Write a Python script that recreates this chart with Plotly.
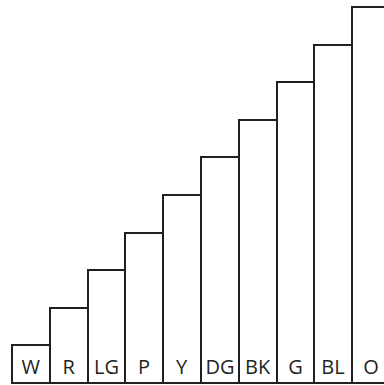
import plotly.graph_objects as go

# step chart of colour bars, each one step taller than the last
labels = ["W", "R", "LG", "P", "Y", "DG", "BK", "G", "BL", "O"]
heights = [1, 2, 3, 4, 5, 6, 7, 8, 9, 10]

ink = "#231f20"

fig = go.Figure(go.Bar(
    x=list(range(len(labels))),
    y=heights,
    text=labels,
    textposition="inside",
    insidetextanchor="start",
    textangle=0,
    textfont=dict(family="Open Sans", size=20, color=ink),
    marker=dict(color="white", line=dict(color=ink, width=2)),
    hoverinfo="skip",
))

fig.update_layout(
    width=384, height=385,
    margin=dict(l=0, r=0, t=0, b=0),
    paper_bgcolor="white", plot_bgcolor="white",
    bargap=0, showlegend=False,
    uniformtext=dict(minsize=20, mode="show"),
)
fig.update_xaxes(visible=False, range=[-0.817, 9.34])
fig.update_yaxes(visible=False, range=[-0.053, 10.19])

# page body has a default margin; drop it so the figure sits at the corner
fig.write_html("out.html", config={"displayModeBar": False},
               post_script="document.body.style.margin='0';document.body.style.overflow='hidden';")
